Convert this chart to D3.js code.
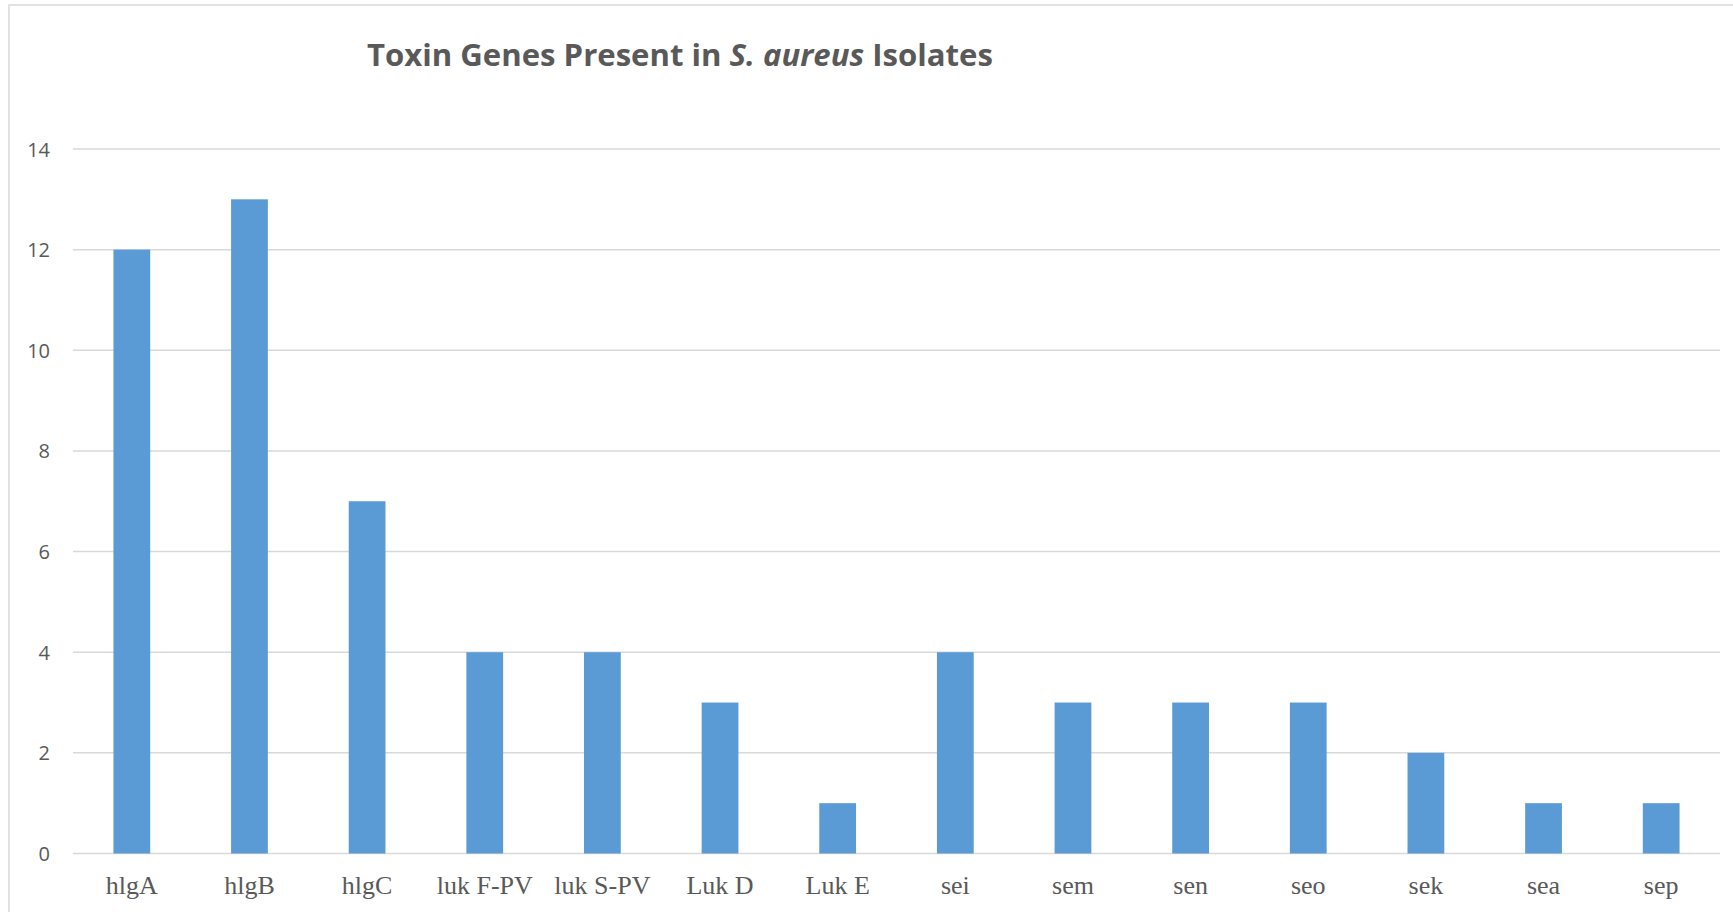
<!DOCTYPE html>
<html>
<head>
<meta charset="utf-8">
<script src="https://cdn.jsdelivr.net/npm/d3@7"></script>
<style>
  html, body { margin: 0; padding: 0; background: #fff; }
  #chart { width: 1733px; height: 912px; }
</style>
</head>
<body>
<div id="chart"></div>
<script>
// data
const genes = ["hlgA", "hlgB", "hlgC", "luk F-PV", "luk S-PV", "Luk D", "Luk E",
               "sei", "sem", "sen", "seo", "sek", "sea", "sep"];
const counts = [12, 13, 7, 4, 4, 3, 1, 4, 3, 3, 3, 2, 1, 1];
const yTicks = [0, 2, 4, 6, 8, 10, 12, 14];

const width = 1733, height = 912;
const plot = { left: 73, right: 1720, top: 149, bottom: 853.5 };

const svg = d3.select("#chart")
    .append("svg")
    .attr("width", width)
    .attr("height", height);

// chart frame (only top and left edges are inside the picture)
svg.append("rect")
    .attr("x", 9)
    .attr("y", 5)
    .attr("width", width + 20)
    .attr("height", height + 20)
    .attr("fill", "none")
    .attr("stroke", "#d9d9d9")
    .attr("stroke-width", 1.5);

const x = d3.scaleBand()
    .domain(genes)
    .range([plot.left, plot.right])
    .paddingInner(0.6875)
    .paddingOuter(0.6875 / 2);

const y = d3.scaleLinear()
    .domain([0, 14])
    .range([plot.bottom, plot.top]);

// gridlines
svg.append("g")
    .attr("class", "grid")
    .selectAll("line")
    .data(yTicks)
    .join("line")
    .attr("x1", plot.left)
    .attr("x2", plot.right)
    .attr("y1", d => y(d))
    .attr("y2", d => y(d))
    .attr("stroke", "#d9d9d9")
    .attr("stroke-width", 1.5);

// y tick labels
const yAxis = d3.axisLeft(y).tickValues(yTicks).tickSize(0).tickPadding(0);
const gy = svg.append("g")
    .attr("transform", `translate(50,0)`)
    .call(yAxis);
gy.select(".domain").remove();
gy.selectAll("text")
    .attr("fill", "#595959")
    .attr("font-family", "'Open Sans', sans-serif")
    .attr("font-size", 20)
    .attr("dy", "0.35em");

// bars
svg.append("g")
    .selectAll("rect")
    .data(counts)
    .join("rect")
    .attr("x", (d, i) => x(genes[i]))
    .attr("y", d => y(d))
    .attr("width", x.bandwidth())
    .attr("height", d => y(0) - y(d))
    .attr("fill", "#5b9bd5");

// x labels
const xAxis = d3.axisBottom(x).tickSize(0).tickPadding(0);
const gx = svg.append("g")
    .attr("transform", `translate(0,894)`)
    .call(xAxis);
gx.select(".domain").remove();
gx.selectAll("text")
    .attr("fill", "#595959")
    .attr("font-family", "'Liberation Serif', 'Times New Roman', serif")
    .attr("font-size", 26)
    .attr("dy", 0);

// title
const title = svg.append("text")
    .attr("x", 680)
    .attr("y", 66)
    .attr("text-anchor", "middle")
    .attr("fill", "#595959")
    .attr("font-family", "'Open Sans', sans-serif")
    .attr("font-weight", "bold")
    .attr("font-size", 28);
title.append("tspan").text("Toxin Genes Present in ");
title.append("tspan").attr("font-style", "italic").text("S. aureus");
title.append("tspan").text(" Isolates");

// fit the title to the width it has in the reference
const targetW = 626;
const w = title.node().getComputedTextLength();
title.attr("font-size", 28 * targetW / w);
</script>
</body>
</html>
